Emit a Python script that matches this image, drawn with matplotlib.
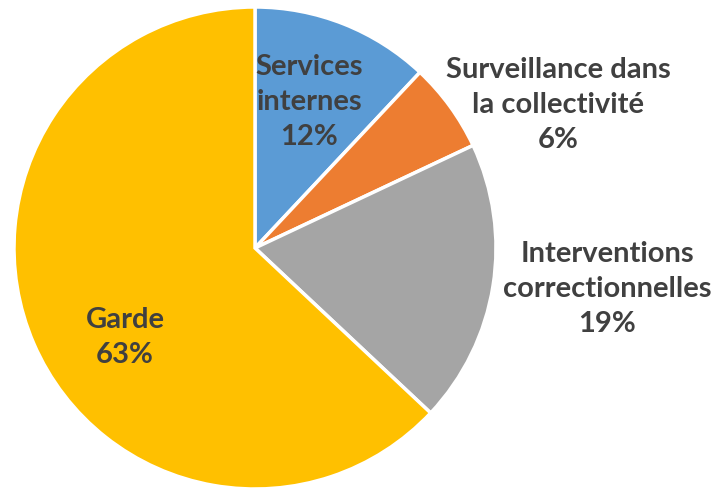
import matplotlib.pyplot as plt

categories = ["Services\ninternes", "Surveillance dans\nla collectivité",
              "Interventions\ncorrectionnelles", "Garde"]
shares = [12, 6, 19, 63]
colors = ["#5B9BD5", "#ED7D31", "#A5A5A5", "#FFC000"]

# label anchor points (radius units, pie centre at 0,0)
label_pos = [(0.224, 0.606), (1.257, 0.593), (1.461, -0.170), (-0.539, -0.373)]

fig = plt.figure(figsize=(7.17, 4.91), dpi=100)
# pie centre ~ (255, 248) px, radius ~ 241 px
ax = fig.add_axes([(255 - 241) / 717, (491 - 248 - 241) / 491, 482 / 717, 482 / 491])

ax.pie(shares, colors=colors, startangle=90, counterclock=False, radius=1,
       wedgeprops=dict(edgecolor="white", linewidth=2.5))
ax.set_xlim(-1, 1)
ax.set_ylim(-1, 1)
ax.set_aspect("equal")
ax.axis("off")

for cat, val, (x, y) in zip(categories, shares, label_pos):
    ax.text(x, y, f"{cat}\n{val}%", ha="center", va="center", fontsize=21,
            fontweight="bold", color="#404040", family="Lato",
            linespacing=1.42, clip_on=False)

fig.savefig("out.png", dpi=100)
